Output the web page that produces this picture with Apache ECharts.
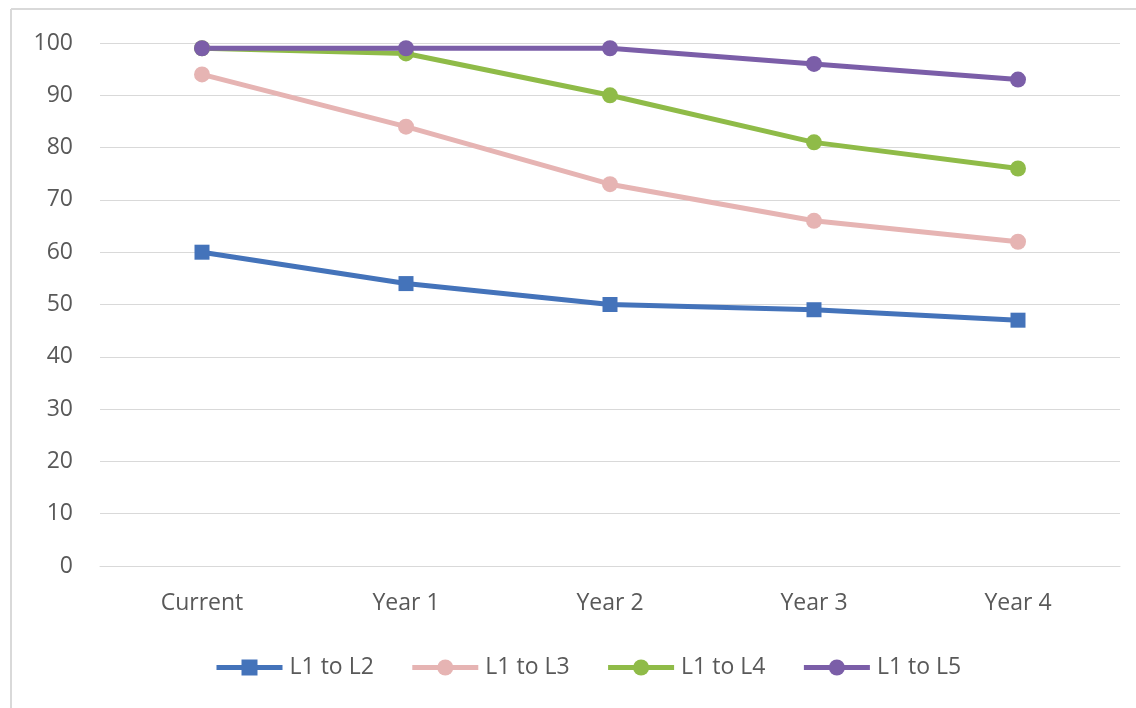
<!DOCTYPE html>
<html>
<head>
<meta charset="utf-8">
<script src="https://cdn.jsdelivr.net/npm/echarts@6/dist/echarts.min.js"></script>
<style>
  html, body { margin: 0; padding: 0; background: #ffffff; }
  #line-chart { width: 1136px; height: 708px; }
</style>
</head>
<body>
<div id="line-chart"></div>
<script>
// categories and values
const categories = ['Current', 'Year 1', 'Year 2', 'Year 3', 'Year 4']
const l1ToL2 = [60, 54, 50, 49, 47]
const l1ToL3 = [94, 84, 73, 66, 62]
const l1ToL4 = [99, 98, 90, 81, 76]
const l1ToL5 = [99, 99, 99, 96, 93]

const fontFamily = '"Open Sans", "Noto Sans", sans-serif'
const textColor = '#595959'

function makeSeries(name, data, color, symbol) {
  return {
    name: name,
    type: 'line',
    data: data,
    symbol: symbol,
    symbolSize: symbol === 'rect' ? 15 : 16,
    lineStyle: { width: 5, color: color },
    itemStyle: { color: color },
    emphasis: { disabled: true }
  }
}

const chart = echarts.init(document.getElementById('line-chart'))

const option = {
  animation: false,
  backgroundColor: '#ffffff',
  graphic: [
    // frame lines at top and left, like the reference
    { type: 'line', shape: { x1: 11, y1: 9, x2: 1136, y2: 9 }, style: { stroke: '#d9d9d9', lineWidth: 2 } },
    { type: 'line', shape: { x1: 11, y1: 9, x2: 11, y2: 708 }, style: { stroke: '#d9d9d9', lineWidth: 2 } }
  ],
  grid: {
    left: 100,
    right: 16,
    top: 43,
    bottom: 142
  },
  legend: {
    data: ['L1 to L2', 'L1 to L3', 'L1 to L4', 'L1 to L5'],
    left: 214,
    top: 656,
    padding: 0,
    itemWidth: 66,
    itemHeight: 20,
    itemGap: 36,
    lineStyle: { width: 5 },
    textStyle: {
      color: textColor,
      fontSize: 23,
      fontFamily: fontFamily,
      padding: [0, 0, 0, 2]
    }
  },
  xAxis: {
    type: 'category',
    data: categories,
    boundaryGap: true,
    axisLine: { lineStyle: { color: '#d9d9d9', width: 1 } },
    axisTick: { show: false },
    axisLabel: {
      color: textColor,
      fontSize: 23,
      fontFamily: fontFamily,
      margin: 26
    }
  },
  yAxis: {
    type: 'value',
    min: 0,
    max: 100,
    interval: 10,
    axisLine: { show: false },
    axisTick: { show: false },
    splitLine: { lineStyle: { color: '#d9d9d9', width: 1 } },
    axisLabel: {
      color: textColor,
      fontSize: 23,
      fontFamily: fontFamily,
      margin: 27
    }
  },
  series: [
    makeSeries('L1 to L2', l1ToL2, '#4473ba', 'rect'),
    makeSeries('L1 to L3', l1ToL3, '#e6b4b3', 'circle'),
    makeSeries('L1 to L4', l1ToL4, '#8fbb48', 'circle'),
    makeSeries('L1 to L5', l1ToL5, '#7b5ea8', 'circle')
  ]
}

chart.setOption(option)
</script>
</body>
</html>
